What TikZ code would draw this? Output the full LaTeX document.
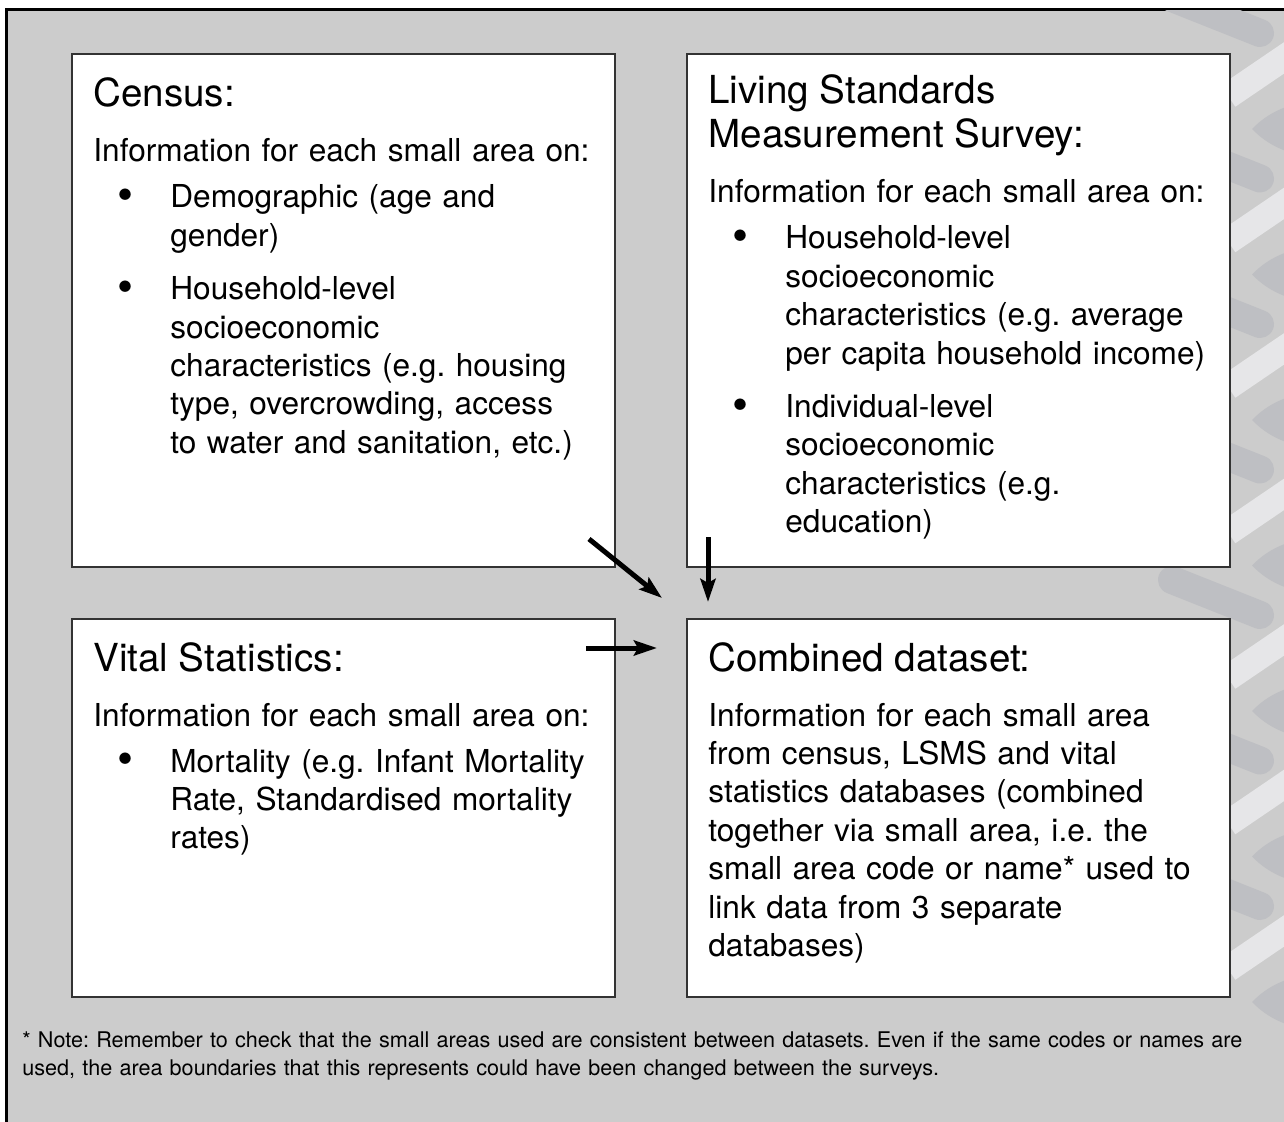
\documentclass[tikz,border=0pt]{standalone}
\usepackage{fontspec}
\setmainfont{TeX Gyre Heros}
\usepackage{xcolor}
\usepackage{tikz}
\usetikzlibrary{positioning, arrows.meta}

\definecolor{bggray}{HTML}{CCCCCC}
\definecolor{stripelight}{HTML}{E6E6E8}
\definecolor{stripedark}{HTML}{BEBFC3}
\definecolor{boxline}{HTML}{333333}

\setlength{\parskip}{0pt}
\frenchspacing
\newcommand{\headfont}{\fontsize{19.3pt}{22pt}\selectfont}
\newcommand{\bodyfont}{\fontsize{15.8pt}{19.2pt}\selectfont}
\newcommand{\notefont}{\fontsize{10.8pt}{14pt}\selectfont}
\newcommand{\headline}[1]{{\headfont #1\par}\vspace{8.3pt}}
\newcommand{\bitem}[2][7.5pt]{\par\vspace{#1}\hangindent=38.5pt\hangafter=1\noindent
  \hspace*{12pt}\makebox[26.5pt][l]{\raisebox{-0.08em}{\scalebox{1.45}{\textbullet}}}{\let\\\newline #2}\par}

\begin{document}
\begin{tikzpicture}[
    x = 0.5pt, y = -0.5pt,
    databox/.style = {
        draw=boxline, line width=1pt, fill=white, anchor=north west,
        minimum width=271.5pt, inner sep=0pt
    },
    boxtext/.style = {
        text width=262pt, align=left, inner sep=0pt, anchor=base west, font=\bodyfont
    },
    feed/.style = {line width=2.5pt, -{Stealth[length=11.5pt, width=7.5pt, inset=2pt]}}
  ]
    \useasboundingbox (0,0) rectangle (1284,1122);
    \fill[bggray] (6.5,9.5) rectangle (1284,1122);  % background
    \draw[line width=1.5pt] (6.5,1122) -- (6.5,9.5) -- (1284,9.5);  % frame

    % ribbon on the right edge
    \begin{scope}
      \clip (8,11) rectangle (1284,1122);
      \foreach \k in {0,...,6} {
        \pgfmathsetmacro{\yy}{33+145.5*\k}
        \draw[stripelight, line width=13pt] (1228,\yy+63) -- (1300,\yy+14);
        \draw[stripedark, line width=14pt, line cap=round] (1172,\yy-35) -- (1260,\yy);
        \fill[stripedark] (1300,\yy+70) .. controls (1272,\yy+76) and (1258,\yy+90) .. (1252,\yy+96)
          .. controls (1258,\yy+102) and (1272,\yy+116) .. (1300,\yy+122) -- cycle;
      }
    \end{scope}

    \node[databox, minimum height=256.5pt] (census) at (71,53) {};  % top left
    \node[databox, minimum height=256.5pt, right=35pt of census] (lsms) {};  % top right
    \node[databox, minimum height=189pt, below=25pt of census] (vital) {};  % bottom left
    \node[databox, minimum height=189pt, below=25pt of lsms] (combined) {};  % bottom right

    \node[boxtext] (census-txt) at ([shift={(22,54)}]census.north west) {%
      \headline{Census:}
      Information for each small area on:
      \bitem[3.8pt]{Demographic (age and\\gender)}
      \bitem{Household-level\\socioeconomic\\characteristics (e.g. housing\\type, overcrowding, access\\to water and sanitation, etc.)}};
    \node[boxtext] (lsms-txt) at ([shift={(22,51)}]lsms.north west) {%
      \headline{Living Standards\\Measurement Survey:}
      Information for each small area on:
      \bitem[3.8pt]{Household-level\\socioeconomic\\characteristics (e.g. average\\per capita household income)}
      \bitem{Individual-level\\socioeconomic\\characteristics (e.g.\\education)}};
    \node[boxtext] (vital-txt) at ([shift={(22,53)}]vital.north west) {%
      \headline{Vital Statistics:}
      Information for each small area on:
      \bitem[3.8pt]{Mortality (e.g. Infant Mortality\\Rate, Standardised mortality\\rates)}};
    \node[boxtext] (combined-txt) at ([shift={(22,53)}]combined.north west) {%
      \headline{Combined dataset:}
      Information for each small area\\from census, LSMS and vital\\statistics databases (combined\\together via small area, i.e. the\\small area code or name* used to\\link data from 3 separate\\databases)};

    \draw[feed] ([shift={(-27,-29)}]census.south east) -- ([shift={(-24,-20)}]combined.north west);
    \draw[feed] ([shift={(22,-31)}]lsms.south west) -- ([shift={(22,-16)}]combined.north west);
    \draw[feed] ([shift={(-30,30)}]vital.north east) -- ([shift={(-29,30)}]combined.north west);

    \node[anchor=base west, text width=640pt, align=left, inner sep=0pt, font=\notefont] (note) at (22,1047)
      {* Note: Remember to check that the small areas used are consistent between datasets. Even if the same codes or names are\\
       used, the area boundaries that this represents could have been changed between the surveys.};
\end{tikzpicture}
\end{document}
